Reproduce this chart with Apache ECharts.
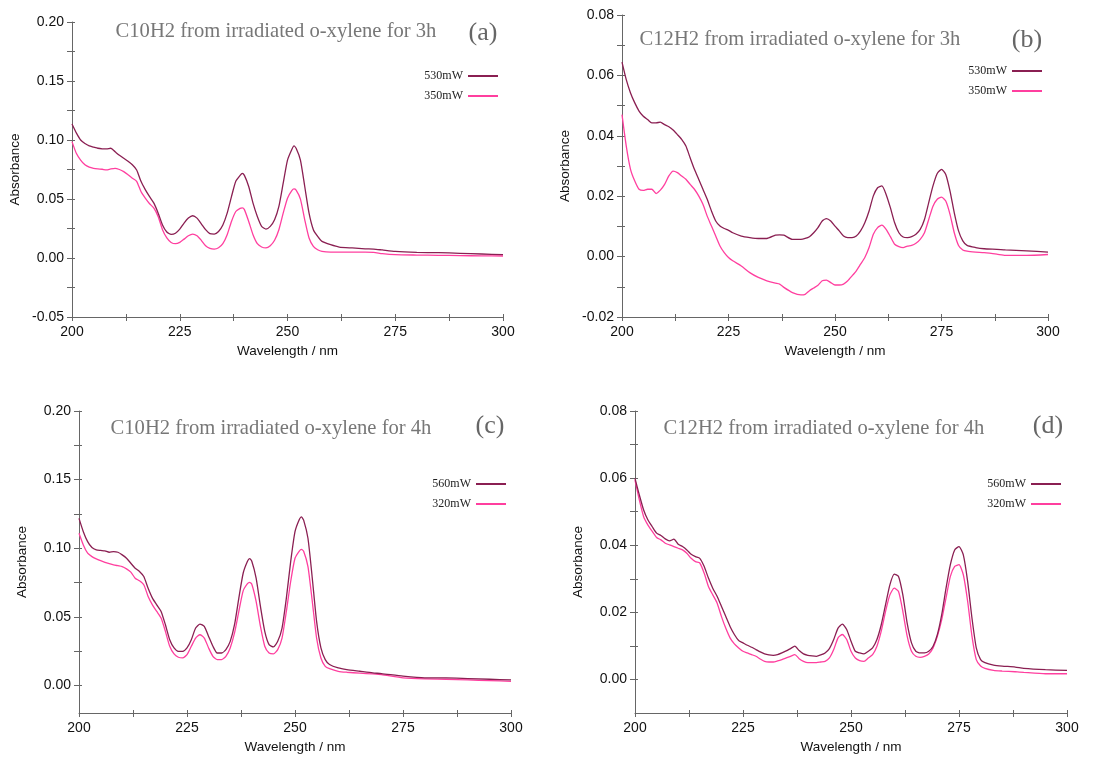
<!DOCTYPE html>
<html>
<head>
<meta charset="utf-8">
<script src="https://cdn.jsdelivr.net/npm/echarts@6/dist/echarts.min.js"></script>
<style>html,body{margin:0;padding:0;background:#fff;}#c{width:1109px;height:759px;}</style>
</head>
<body>
<div id="c"></div>
<script>
// ---------- DATA ----------
// Panel (a): C10H2, 3h
const wlA = [200,201,202,203,204,205,206,207,208,209,210,211,212,213,214,215,216,217,218,219,220,221,222,223,224,225,226,227,228,229,230,231,232,233,234,235,236,237,238,239,239.5,240,241,242,243,244,245,246,247,248,249,250,251,251.5,252,253,254,255,256,257,258,260,262,265,268,270,272,275,280,285,290,295,300];
const a530 = [.1135,.106,.100,.097,.095,.094,.093,.0925,.0924,.093, .090,.087,.0845,.082,.079,.0746,.065,.058,.052,.0465, .038,.028,.022,.020,.021,.0245,.0296,.0338,.0358,.0338, .029,.024,.0206,.0203,.0225,.028,.038,.052,.065,.070, .0718, .070,.0606,.0465,.0352,.0268,.0245,.0268,.0324,.0437,.0634,.083,.092, .095, .093,.083,.0606,.038,.024,.0183,.0141, .0113,.0093,.0085,.0078,.0076,.0068,.0056,.0048,.0045,.004,.0034,.0028];
const a350 = [.0986,.0887,.083,.079,.077,.076,.0755,.0752,.0746,.0755, .076,.075,.0732,.0705,.0676,.065,.0563,.0507,.046,.0423, .035,.024,.017,.0132,.0121,.0132,.016,.0189,.0203,.0189, .015,.0104,.0082,.0076,.0087,.0121,.0197,.031,.0394,.042, .0425, .041,.031,.0197,.0121,.0093,.0085,.0104,.015,.024,.038,.0507,.057, .0585, .0575,.0499,.0324,.0169,.0099,.007,.0056, .005,.005,.005,.005,.0048,.0037,.0028,.0025,.0023,.002,.0018,.0017];

// Panel (b): C12H2, 3h
const wlB = [200,201,202,203,204,205,206,207,208,209,210,211,212,213,214,215,216,217,218,219,220,221,222,223,224,225,226,228,230,232,234,236,237,238,240,242,243,244,245,246,247,248,249,250,251,252,253,254,255,256,257,258,259,260,261,262,263,264,265,266,267,268,269,270,271,272,273,274,275,276,277,278,279,280,281,283,285,288,290,295,300];
const b530 = [.0644,.0586,.0542,.0509,.0482,.0465,.0454,.0443,.0443,.0445, .0437,.043,.0419,.0404,.0388,.0366,.0327,.0289,.0256,.0223, .019,.0151,.0118,.0101,.0093,.0087,.0079, .0068,.0063,.006,.006,.0071,.0072,.0071,.0057,.0057,.006,.0066, .0079,.0096,.0118,.0126,.0118,.0101,.0085,.0068,.0063,.0063, .0068,.0085,.0112,.0151,.0201,.0228,.0234,.0206,.0162,.0112, .0079,.0065,.0063,.0066,.0074,.009,.0123,.0179,.0234,.0275, .0289,.0272,.0217,.0145,.0085,.0052,.0037, .003,.0026,.0024,.0022,.0019,.0015];
const b350 = [.047,.0366,.0289,.025,.0223,.0219,.0223,.0223,.0209,.022, .0239,.0267,.0283,.0278,.0267,.0256,.0239,.0223,.0201,.0173, .0134,.0101,.0068,.0035,.0013,-.0003,-.0014, -.0031,-.0053,-.0069,-.008,-.0088,-.0091,-.0102,-.0119,-.0127,-.0125,-.0113, -.0104,-.0095,-.008,-.0078,-.0086,-.0094,-.0094,-.0091,-.008,-.0064, -.0047,-.0025,-.0003,.003,.0074,.0096,.0104,.009,.0066,.0041, .0033,.003,.0035,.0037,.0044,.0057,.0079,.0123,.0167,.019, .0197,.0184,.014,.0079,.0037,.0022,.0018, .0015,.0013,.0008,.0004,.0004,.0007];

// Panel (c): C10H2, 4h
const wlC = [200,201,202,203,204,205,206,207,208,209,210,211,212,213,214,215,216,217,218,219,220,221,222,223,224,225,226,227,228,229,230,231,232,233,234,235,236,237,238,239,239.5,240,241,242,243,244,245,246,247,248,249,250,251,251.5,252,253,254,255,256,257,258,260,262,265,268,270,275,280,285,290,295,300];
const c560 = [.1218,.1121,.1048,.1005,.0988,.0984,.0981,.0971,.0976,.0971, .0952,.0927,.0891,.0855,.0831,.0794,.0709,.0637,.0588,.054, .0443,.0334,.0274,.0249,.0249,.0274,.0334,.0419,.0448,.0431, .0358,.0286,.0237,.0237,.0262,.0322,.0443,.0637,.0818,.0905, .0925, .0905,.0782,.0576,.0395,.0298,.0281,.0322,.0419,.0637,.0903,.1121,.121, .1228, .1205,.1073,.0782,.0467,.0274,.0189,.0153, .0128,.0116,.0104,.0092,.0087,.0068,.0056,.0056,.0051,.0046,.0041];
const c320 = [.1109,.1024,.0964,.0939,.0923,.091,.0898,.0888,.0879,.0873, .0867,.085,.0826,.0782,.0763,.0734,.0649,.0588,.054,.0492, .0395,.0286,.023,.0206,.0201,.0225,.0286,.0346,.037,.0346, .0274,.0213,.0189,.0189,.0213,.0274,.0383,.054,.069,.0742, .0752, .0738,.0613,.0431,.0286,.0237,.023,.0262,.0346,.054,.0758,.0927,.098, .0992, .0978,.0867,.0613,.0346,.0201,.014,.0123, .0104,.0097,.009,.0085,.008,.0056,.0048,.0046,.0041,.0036,.0031];

// Panel (d): C12H2, 4h
const wlD = [200,201,202,203,204,205,206,207,208,209,210,211,212,213,214,215,216,217,218,219,220,221,222,223,224,225,226,227,228,229,230,231,232,233,234,235,236,237,238,239,240,241,242,243,244,245,246,247,248,249,250,251,252,253,254,255,256,257,258,259,260,261,262,263,264,265,266,267,268,269,270,271,272,273,274,275,276,277,278,279,280,281,283,285,288,290,295,300];
const d560 = [.0599,.055,.0505,.0475,.0455,.0436,.0429,.0419,.0413,.0418, .0403,.0396,.0386,.0373,.0366,.0361,.0337,.0302,.0272,.0248, .0218,.0188,.0158,.0134,.0116,.0109,.0102,.0096,.0089,.0082, .0076,.0073,.0072,.0074,.0079,.0085,.0092,.0099,.0086,.0076, .0072,.007,.0069,.0073,.0079,.0092,.0119,.0153,.0165,.0149, .0114,.0084,.0079,.0076,.0084,.0094,.0119,.0163,.0223,.0282, .0314,.0307,.0252,.0168,.0109,.0084,.0079,.0079,.0084,.0099, .0134,.0193,.0272,.0342,.0386,.0396,.0371,.0292,.0183,.0094, .0059,.005, .0043,.004,.0037,.0033,.0029,.0027];
const d320 = [.0594,.0535,.0485,.046,.0441,.0423,.0416,.0406,.0401,.0396, .0391,.0386,.0376,.0361,.0351,.0347,.0317,.0277,.0252,.0228, .0188,.0153,.0124,.0106,.0094,.0084,.0079,.0074,.0069,.0061, .0054,.0052,.0052,.0055,.0059,.0064,.0069,.0074,.0062,.0054, .005,.005,.005,.0052,.0054,.0064,.0089,.0124,.0134,.0119, .0084,.0064,.0056,.0054,.0064,.0074,.0099,.0144,.0203,.0252, .0272,.0262,.0203,.0129,.0084,.0069,.0066,.0069,.0076,.0094, .0129,.0178,.0243,.0307,.0337,.0342,.0312,.0233,.0129,.0059, .004,.0033, .0027,.0025,.0023,.0021,.0017,.0017];

// Tick values
const xLabels = [200,225,250,275,300];
const xTicks = [200,212.5,225,237.5,250,262.5,275,287.5,300];
const yLabelsA = [-0.05,0,0.05,0.10,0.15,0.20];
const yTicksA = [-0.05,-0.025,0,0.025,0.05,0.075,0.10,0.125,0.15,0.175,0.20];
const yLabelsB = [-0.02,0,0.02,0.04,0.06,0.08];
const yTicksB = [-0.02,-0.01,0,0.01,0.02,0.03,0.04,0.05,0.06,0.07,0.08];
const yLabelsC = [0,0.05,0.10,0.15,0.20];
const yTicksC = [0,0.025,0.05,0.075,0.10,0.125,0.15,0.175,0.20];
const yLabelsD = [0,0.02,0.04,0.06,0.08];
const yTicksD = [0,0.01,0.02,0.03,0.04,0.05,0.06,0.07,0.08];

const titles = ['C10H2 from irradiated o-xylene for 3h','C12H2 from irradiated o-xylene for 3h','C10H2 from irradiated o-xylene for 4h','C12H2 from irradiated o-xylene for 4h'];
const letters = ['(a)','(b)','(c)','(d)'];
const namesAB = ['530mW','350mW'];
const namesCD = ['560mW','320mW'];

// ---------- LAYOUT ----------
const SANS = '"Liberation Sans", Arial, sans-serif';
const SERIF = '"Liberation Serif", "Times New Roman", serif';
const DARK = '#8a1f52';
const PINK = '#ff3f9f';
const AX = '#666';

const panels = [
  {wl: wlA, s: [a530, a350], names: namesAB, grid:{left:72, top:22, width:431, height:295}, ymin:-0.05, ymax:0.20, yl:yLabelsA, yt:yTicksA,
   title:[276,32], letter:[483,33], legend:{right:611, top:70}},
  {wl: wlB, s: [b530, b350], names: namesAB, grid:{left:622, top:15, width:426, height:302}, ymin:-0.02, ymax:0.08, yl:yLabelsB, yt:yTicksB,
   title:[800,40], letter:[1027,40], legend:{right:67, top:65}},
  {wl: wlC, s: [c560, c320], names: namesCD, grid:{left:79, top:411, width:432, height:302}, ymin:-0.02, ymax:0.20, yl:yLabelsC, yt:yTicksC,
   title:[271,429], letter:[490,426], legend:{right:603, top:478}},
  {wl: wlD, s: [d560, d320], names: namesCD, grid:{left:635, top:411, width:432, height:302}, ymin:-0.01, ymax:0.08, yl:yLabelsD, yt:yTicksD,
   title:[824,429], letter:[1048,426], legend:{right:48, top:478}}
];

const grid = [], xAxis = [], yAxis = [], series = [], legend = [], graphic = [];
panels.forEach((p, i) => {
  grid.push(Object.assign({containLabel:false}, p.grid));
  // main axes
  xAxis.push({type:'value', gridIndex:i, min:200, max:300, position:'bottom',
    name:'Wavelength / nm', nameLocation:'middle', nameGap:27,
    nameTextStyle:{fontFamily:SANS, fontSize:13.5, color:'#111'},
    axisLine:{show:true, onZero:false, lineStyle:{color:AX, width:1}},
    axisTick:{show:true, length:4, customValues:xTicks, lineStyle:{color:AX}},
    axisLabel:{show:true, margin:8, customValues:xLabels, fontFamily:SANS, fontSize:14, color:'#111'},
    splitLine:{show:false}});
  yAxis.push({type:'value', gridIndex:i, min:p.ymin, max:p.ymax, position:'left',
    name:'Absorbance', nameLocation:'middle', nameGap:50,
    nameTextStyle:{fontFamily:SANS, fontSize:13.5, color:'#111'},
    axisLine:{show:true, onZero:false, lineStyle:{color:AX, width:1}},
    axisTick:{show:true, length:5, customValues:p.yt, lineStyle:{color:AX}},
    axisLabel:{show:true, margin:8, customValues:p.yl, fontFamily:SANS, fontSize:14, color:'#111',
      formatter: v => Number(v).toFixed(2)},
    splitLine:{show:false}});
  // series
  p.s.forEach((vals, k) => {
    series.push({type:'line', name:p.names[k], xAxisIndex:i, yAxisIndex:i,
      data: p.wl.map((w, j) => [w, vals[j]]),
      showSymbol:false, symbol:'none', smooth:0.2,
      lineStyle:{color: k === 0 ? DARK : PINK, width:1.3},
      itemStyle:{color: k === 0 ? DARK : PINK},
      z: k === 0 ? 3 : 2, animation:false});
  });
  legend.push(Object.assign({orient:'vertical', align:'right', icon:'rect', itemWidth:30, itemHeight:2,
    itemGap:8, padding:0, selectedMode:false, data:p.names,
    textStyle:{fontFamily:SERIF, fontSize:12, color:'#222'}}, p.legend));
  graphic.push({type:'text', x:p.title[0], y:p.title[1],
    style:{text:titles[i], font:'20.6px ' + SERIF, fill:'#777', align:'center', verticalAlign:'middle', textAlign:'center', textVerticalAlign:'middle'}});
  graphic.push({type:'text', x:p.letter[0], y:p.letter[1],
    style:{text:letters[i], font:'26px ' + SERIF, fill:'#666', align:'center', verticalAlign:'middle', textAlign:'center', textVerticalAlign:'middle'}});
});
// overlay axes: inside ticks so the ticks cross the axis line
panels.forEach((p, i) => {
  xAxis.push({type:'value', gridIndex:i, min:200, max:300, position:'bottom',
    axisLine:{show:false, onZero:false}, axisLabel:{show:false}, splitLine:{show:false},
    axisTick:{show:true, inside:true, length:3, customValues:xTicks, lineStyle:{color:AX}}});
  yAxis.push({type:'value', gridIndex:i, min:p.ymin, max:p.ymax, position:'left',
    axisLine:{show:false, onZero:false}, axisLabel:{show:false}, splitLine:{show:false},
    axisTick:{show:true, inside:true, length:3, customValues:p.yt, lineStyle:{color:AX}}});
});

const chart = echarts.init(document.getElementById('c'), null, {renderer:'canvas'});
chart.setOption({animation:false, backgroundColor:'#fff', grid, xAxis, yAxis, series, legend, graphic});
</script>
</body>
</html>
